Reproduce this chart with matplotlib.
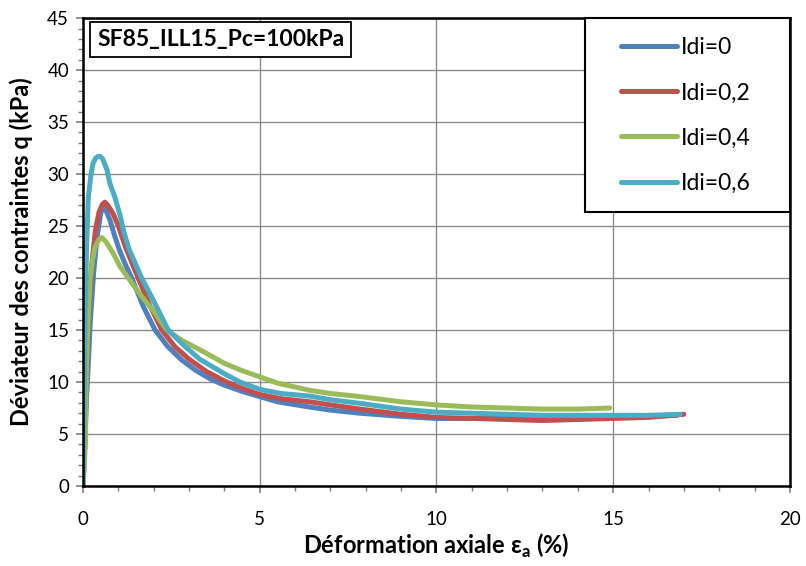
import numpy as np
import matplotlib
matplotlib.use("Agg")
import matplotlib.pyplot as plt
from matplotlib.ticker import MultipleLocator
from matplotlib.patches import Rectangle

# values
x_idi0 = [0, 0.05, 0.1, 0.15, 0.2, 0.3, 0.4, 0.5, 0.57, 0.65, 0.76, 0.9, 1.05, 1.2,
          1.38, 1.7, 2.04, 2.4, 2.8, 3.2, 3.6, 4.0, 4.5, 5.0, 5.5, 6.4, 7.0, 7.84,
          9.0, 10.0, 11.0, 12.0, 13.0, 14.0, 15.0, 16.0, 16.8]
y_idi0 = [0, 4.0, 8.5, 11.8, 15.5, 20.5, 24.0, 26.2, 26.9, 26.5, 25.6, 24.0, 22.5, 21.3,
          20.0, 17.3, 15.0, 13.4, 12.1, 11.1, 10.3, 9.7, 9.1, 8.6, 8.1, 7.6, 7.3, 7.0,
          6.7, 6.5, 6.5, 6.5, 6.5, 6.5, 6.6, 6.7, 6.8]

x_idi02 = [0.05, 0.08, 0.12, 0.18, 0.25, 0.35, 0.45, 0.55, 0.62, 0.7, 0.85, 1.0, 1.2,
           1.56, 1.9, 2.23, 2.6, 3.0, 3.5, 4.0, 4.5, 5.0, 5.6, 6.42, 7.0, 7.84, 9.0,
           10.0, 11.0, 12.0, 13.0, 14.0, 15.0, 16.0, 17.0]
y_idi02 = [3.5, 8.0, 13.0, 18.0, 21.4, 24.6, 26.3, 27.1, 27.3, 27.0, 26.2, 25.0, 23.0,
           20.0, 17.3, 15.0, 13.4, 12.2, 11.0, 10.1, 9.4, 8.8, 8.4, 8.1, 7.8, 7.4, 6.9,
           6.6, 6.5, 6.4, 6.3, 6.4, 6.5, 6.6, 6.9]

x_idi04 = [0, 0.04, 0.07, 0.1, 0.15, 0.2, 0.27, 0.34, 0.45, 0.53, 0.65, 0.85, 1.05,
           1.28, 1.6, 2.0, 2.37, 2.8, 3.31, 4.0, 4.5, 5.0, 5.5, 6.42, 7.0, 7.84, 9.0,
           10.0, 11.0, 12.0, 13.0, 14.0, 14.9]
y_idi04 = [0, 2.0, 5.4, 11.8, 16.5, 19.8, 21.8, 23.0, 23.7, 23.9, 23.5, 22.4, 21.1,
           20.0, 18.5, 16.8, 15.0, 14.0, 13.1, 11.8, 11.1, 10.5, 9.9, 9.2, 8.9, 8.6, 8.1,
           7.8, 7.6, 7.5, 7.4, 7.4, 7.5]

x_idi06 = [0, 0.03, 0.06, 0.1, 0.15, 0.22, 0.28, 0.35, 0.42, 0.48, 0.55, 0.62, 0.68,
           0.76, 0.9, 1.05, 1.15, 1.3, 1.66, 2.0, 2.41, 2.83, 3.3, 4.0, 4.44, 5.0, 5.6,
           6.42, 7.0, 7.84, 9.0, 10.0, 11.0, 12.0, 13.0, 14.0, 15.0, 16.0, 16.9]
y_idi06 = [0, 8.0, 16.0, 23.0, 27.8, 29.8, 31.0, 31.5, 31.7, 31.7, 31.5, 30.9, 30.4,
           29.1, 27.8, 26.0, 24.5, 22.8, 20.0, 17.8, 15.0, 13.6, 12.2, 10.8, 10.0, 9.3, 8.9,
           8.65, 8.3, 7.95, 7.4, 7.1, 7.0, 6.9, 6.8, 6.8, 6.8, 6.8, 6.9]

labels = ["Idi=0", "Idi=0,2", "Idi=0,4", "Idi=0,6"]
colors = ["#4F81BD", "#C0504D", "#9BBB59", "#4BACC6"]

plt.rcParams['font.family'] = ['Lato', 'DejaVu Sans']

fig = plt.figure(figsize=(8.06, 5.66), dpi=100)
ax = fig.add_axes([0.103, 0.1413, 0.877, 0.8267])

series = [(x_idi0, y_idi0), (x_idi02, y_idi02), (x_idi04, y_idi04), (x_idi06, y_idi06)]
handles = []
for (xs, ys), lab, col in zip(series, labels, colors):
    ln, = ax.plot(xs, ys, color=col, lw=3.6, label=lab, solid_capstyle='round',
                  solid_joinstyle='round')
    handles.append(ln)

ax.set_xlim(0, 20)
ax.set_ylim(0, 45)
ax.xaxis.set_major_locator(MultipleLocator(5))
ax.xaxis.set_minor_locator(MultipleLocator(1))
ax.yaxis.set_major_locator(MultipleLocator(5))
ax.yaxis.set_minor_locator(MultipleLocator(1))
ax.grid(True, which='major', color='#8c8c8c', lw=1.0)
ax.set_axisbelow(True)

for sp in ax.spines.values():
    sp.set_linewidth(1.8)
    sp.set_color('black')

ax.tick_params(which='major', direction='out', length=5, width=1.2,
               color='#808080', labelsize=13.5)
ax.tick_params(which='minor', direction='out', length=3.5, width=1.0, color='#808080')
ax.tick_params(axis='x', which='major', pad=13)
ax.tick_params(axis='y', which='major', pad=5)

ax.set_xlabel("Déformation axiale ε$_\\mathregular{a}$ (%)", fontsize=17,
              fontweight='bold', labelpad=3)
ax.set_ylabel("Déviateur des contraintes q (kPa)", fontsize=17, fontweight='bold')
ax.yaxis.set_label_coords(-0.071, 0.5)

ax.text(0.0198, 0.955, "SF85_ILL15_Pc=100kPa", transform=ax.transAxes,
        ha='left', va='center', fontsize=16.5, fontweight='bold', zorder=6,
        bbox=dict(boxstyle='square,pad=0.3', fc='white', ec='black', lw=1.3))

# legend box like the Excel one, wide with the entries centred inside
ax.add_patch(Rectangle((0.710, 0.585), 0.290, 0.415, transform=ax.transAxes,
                       fc='white', ec='black', lw=1.5, zorder=4, clip_on=False))
leg = ax.legend(handles=handles, loc='center', bbox_to_anchor=(0.853, 0.792),
                frameon=False, fontsize=16.5, handlelength=2.45,
                handletextpad=0.17, labelspacing=1.05)
leg.set_zorder(5)

fig.savefig("out.png", dpi=100)
